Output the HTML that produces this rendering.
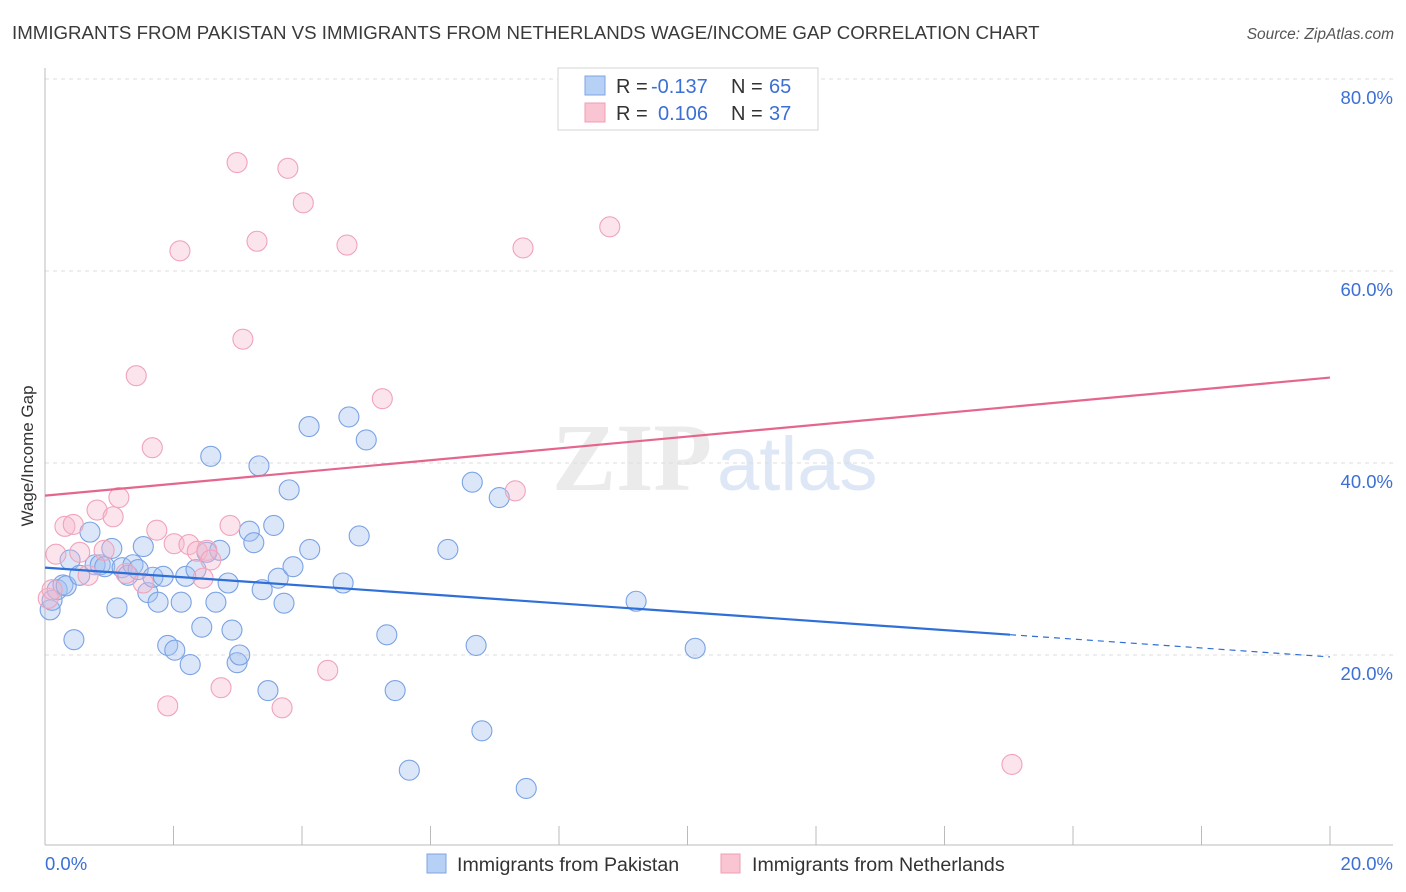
<!DOCTYPE html>
<html><head><meta charset="utf-8">
<style>
body{margin:0;background:#fff;font-family:"Liberation Sans",sans-serif;}
svg{display:block}
</style></head>
<body>
<svg id="chart" width="1406" height="892" xmlns="http://www.w3.org/2000/svg" font-family="Liberation Sans, sans-serif">
<text x="12" y="39" font-size="18.7" fill="#3a3a3a">IMMIGRANTS FROM PAKISTAN VS IMMIGRANTS FROM NETHERLANDS WAGE/INCOME GAP CORRELATION CHART</text>
<text x="1394" y="39" font-size="15.5" fill="#555" font-style="italic" text-anchor="end">Source: ZipAtlas.com</text>
<g opacity="0.5">
<text x="552" y="490" font-size="96" fill="#d8d8d8" font-family="Liberation Serif, serif" font-weight="bold">ZIP</text>
<text x="717" y="490" font-size="76" fill="#bcd0ee">atlas</text>
</g>
<g id="grid"></g>
<g id="axes"></g>
<g id="pts"></g>
<g id="trends"></g>
<text transform="translate(33,456) rotate(-90)" font-size="17" fill="#333" text-anchor="middle">Wage/Income Gap</text>
<g>
<rect x="558" y="68" width="260" height="62" fill="#fff" stroke="#d6d6d6"/>
<rect x="585" y="76" width="20" height="19" fill="#b7d0f5" stroke="#7fa5e4"/>
<rect x="585" y="103" width="20" height="19" fill="#f9c5d3" stroke="#ef9db6"/>
<text x="616" y="93" font-size="20" fill="#333">R =</text>
<text x="651" y="93" font-size="20" fill="#3b6fd6">-0.137</text>
<text x="731" y="93" font-size="20" fill="#333">N =</text>
<text x="769" y="93" font-size="20" fill="#3b6fd6">65</text>
<text x="616" y="120" font-size="20" fill="#333">R =</text>
<text x="658" y="120" font-size="20" fill="#3b6fd6">0.106</text>
<text x="731" y="120" font-size="20" fill="#333">N =</text>
<text x="769" y="120" font-size="20" fill="#3b6fd6">37</text>
</g>
<g>
<rect x="427" y="854" width="19" height="19" fill="#b7d0f5" stroke="#7fa5e4"/>
<text x="457" y="871" font-size="19.6" fill="#333">Immigrants from Pakistan</text>
<rect x="721" y="854" width="19" height="19" fill="#f9c5d3" stroke="#ef9db6"/>
<text x="752" y="871" font-size="19.6" fill="#333">Immigrants from Netherlands</text>
</g>
</svg>
<script>
const yTicks=[20,40,60,80];
const xTickVals=[0,2,4,6,8,10,12,14,16,18,20];
const xLabels=["0.0%","20.0%"];
const pakX=[0.08,0.11,0.19,0.28,0.33,0.39,0.45,0.54,0.70,0.78,0.86,0.93,1.04,1.12,1.20,1.29,1.37,1.45,1.53,1.60,1.68,1.76,1.84,1.91,2.02,2.12,2.19,2.26,2.35,2.44,2.52,2.58,2.66,2.72,2.85,2.91,2.99,3.03,3.18,3.25,3.33,3.38,3.47,3.56,3.63,3.72,3.80,3.86,4.11,4.12,4.64,4.73,4.89,5.00,5.32,5.45,5.67,6.27,6.65,6.71,6.80,7.07,7.49,9.20,10.12];
const pakY=[24.7,25.7,26.8,27.3,27.2,29.9,21.6,28.3,32.8,29.4,29.4,29.2,31.1,24.9,29.1,28.3,29.4,28.9,31.3,26.5,28.1,25.5,28.2,21.0,20.5,25.5,28.2,19.0,28.9,22.9,30.7,40.7,25.5,30.9,27.5,22.6,19.2,20.0,32.9,31.7,39.7,26.8,16.3,33.5,28.0,25.4,37.2,29.2,43.8,31.0,27.5,44.8,32.4,42.4,22.1,16.3,8.0,31.0,38.0,21.0,12.1,36.4,6.1,25.6,20.7];
const nedX=[0.05,0.11,0.17,0.31,0.44,0.54,0.67,0.81,0.92,1.06,1.15,1.26,1.42,1.53,1.67,1.74,1.91,2.01,2.10,2.24,2.37,2.46,2.52,2.58,2.74,2.88,2.99,3.08,3.30,3.69,3.78,4.02,4.40,4.70,5.25,7.32,7.44,8.79,15.05];
const nedY=[25.9,26.8,30.5,33.4,33.6,30.7,28.3,35.1,30.9,34.4,36.4,28.5,49.1,27.5,41.6,33.0,14.7,31.6,62.1,31.5,30.8,28.0,30.9,29.9,16.6,33.5,71.3,52.9,63.1,14.5,70.7,67.1,18.4,62.7,46.7,37.1,62.4,64.6,8.6];
const pakTrend=[29.1,19.8];
const pakSolidEnd=15.02;
const nedTrend=[36.6,48.9];

const X=v=>45+v*64.25, Y=v=>847-v*9.6;
const NS="http://www.w3.org/2000/svg";
function mk(tag,attrs,parent){const e=document.createElementNS(NS,tag);for(const k in attrs)e.setAttribute(k,attrs[k]);parent.appendChild(e);return e;}
const grid=document.getElementById('grid'),axes=document.getElementById('axes'),pts=document.getElementById('pts'),tr=document.getElementById('trends');
yTicks.forEach(t=>{
 const l=mk('line',{x1:45,x2:1393,y1:Y(t),y2:Y(t),stroke:'#dcdcdc','stroke-dasharray':'4,4'},grid);
 
 
 const tx=mk('text',{x:1393,y:Y(t)+25,'font-size':18.5,fill:'#3b6fd6','text-anchor':'end'},grid);
 tx.textContent=t.toFixed(1)+'%';
 
 
});
const ya=mk('line',{x1:45,x2:45,y1:68,y2:845,stroke:'#bbb'},axes);


const xa=mk('line',{x1:45,x2:1393,y1:845,y2:845,stroke:'#bbb'},axes);


xTickVals.forEach(t=>{
 const l=mk('line',{x1:X(t),x2:X(t),y1:826,y2:845,stroke:'#bbb'},axes);
 
 
});
const xl0=mk('text',{x:45,y:870,'font-size':18.5,fill:'#3b6fd6'},axes);xl0.textContent=xLabels[0];


const xl1=mk('text',{x:1393,y:870,'font-size':18.5,fill:'#3b6fd6','text-anchor':'end'},axes);xl1.textContent=xLabels[1];


pakX.forEach((x,i)=>{
 const c=mk('circle',{cx:X(x),cy:Y(pakY[i]),r:10,fill:'rgba(160,192,240,0.38)',stroke:'#7aa2e4','stroke-width':1.1},pts);
 
 
});
nedX.forEach((x,i)=>{
 const c=mk('circle',{cx:X(x),cy:Y(nedY[i]),r:10,fill:'rgba(247,185,204,0.38)',stroke:'#f0a3ba','stroke-width':1.1},pts);
 
 
});
const pk=x=>pakTrend[0]+(pakTrend[1]-pakTrend[0])*x/20;
const l1=mk('line',{x1:X(0),y1:Y(pk(0)),x2:X(pakSolidEnd),y2:Y(pk(pakSolidEnd)),stroke:'#2f6fd8','stroke-width':2.2},tr);


const l2=mk('line',{x1:X(pakSolidEnd),y1:Y(pk(pakSolidEnd)),x2:X(20),y2:Y(pk(20)),stroke:'#2f6fd8','stroke-width':1.2,'stroke-dasharray':'6,5'},tr);


const l3=mk('line',{x1:X(0),y1:Y(nedTrend[0]),x2:X(20),y2:Y(nedTrend[1]),stroke:'#e5668d','stroke-width':2.2},tr);


</script>
</body></html>
